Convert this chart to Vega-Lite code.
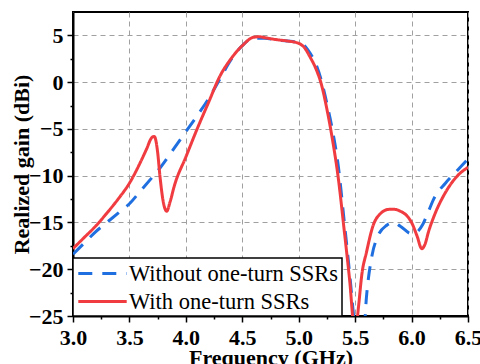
{
  "$schema": "https://vega.github.io/schema/vega-lite/v6.json",
  "width": 395,
  "height": 304,
  "autosize": {"type": "none"},
  "padding": {"left": 73, "top": 12, "right": 12, "bottom": 48},
  "background": "white",
  "config": {
    "font": "Liberation Serif",
    "view": {"stroke": "black", "strokeWidth": 2},
    "legend": {"strokeWidth": 1.5},
    "axis": {
      "domainColor": "black",
      "domainWidth": 2,
      "tickColor": "black",
      "tickWidth": 1.5,
      "labelFont": "Liberation Serif",
      "labelFontSize": 22,
      "labelFontWeight": "bold",
      "labelColor": "black",
      "titleFont": "Liberation Serif",
      "titleFontSize": 22,
      "titleFontWeight": "bold",
      "titleColor": "black",
      "gridColor": "#a0a0a0",
      "gridDash": [5, 4],
      "gridWidth": 1
    }
  },
  "data": {
    "values": [
      {"f": 3.0, "g": -18.4, "s": "Without one-turn SSRs"},
      {"f": 3.1, "g": -17.2, "s": "Without one-turn SSRs"},
      {"f": 3.2, "g": -16.0, "s": "Without one-turn SSRs"},
      {"f": 3.3, "g": -15.0, "s": "Without one-turn SSRs"},
      {"f": 3.4, "g": -14.0, "s": "Without one-turn SSRs"},
      {"f": 3.5, "g": -13.0, "s": "Without one-turn SSRs"},
      {"f": 3.6, "g": -11.6, "s": "Without one-turn SSRs"},
      {"f": 3.7, "g": -10.2, "s": "Without one-turn SSRs"},
      {"f": 3.75, "g": -9.5, "s": "Without one-turn SSRs"},
      {"f": 3.8, "g": -8.7, "s": "Without one-turn SSRs"},
      {"f": 3.9, "g": -7.0, "s": "Without one-turn SSRs"},
      {"f": 4.0, "g": -5.3, "s": "Without one-turn SSRs"},
      {"f": 4.1, "g": -3.6, "s": "Without one-turn SSRs"},
      {"f": 4.2, "g": -1.8, "s": "Without one-turn SSRs"},
      {"f": 4.3, "g": 0.3, "s": "Without one-turn SSRs"},
      {"f": 4.4, "g": 2.4, "s": "Without one-turn SSRs"},
      {"f": 4.5, "g": 3.9, "s": "Without one-turn SSRs"},
      {"f": 4.6, "g": 4.7, "s": "Without one-turn SSRs"},
      {"f": 4.7, "g": 4.7, "s": "Without one-turn SSRs"},
      {"f": 4.8, "g": 4.5, "s": "Without one-turn SSRs"},
      {"f": 4.9, "g": 4.4, "s": "Without one-turn SSRs"},
      {"f": 5.0, "g": 4.2, "s": "Without one-turn SSRs"},
      {"f": 5.05, "g": 3.9, "s": "Without one-turn SSRs"},
      {"f": 5.1, "g": 3.1, "s": "Without one-turn SSRs"},
      {"f": 5.15, "g": 2.0, "s": "Without one-turn SSRs"},
      {"f": 5.2, "g": 0.2, "s": "Without one-turn SSRs"},
      {"f": 5.25, "g": -2.3, "s": "Without one-turn SSRs"},
      {"f": 5.3, "g": -5.2, "s": "Without one-turn SSRs"},
      {"f": 5.35, "g": -8.9, "s": "Without one-turn SSRs"},
      {"f": 5.4, "g": -14.5, "s": "Without one-turn SSRs"},
      {"f": 5.45, "g": -20.3, "s": "Without one-turn SSRs"},
      {"f": 5.5, "g": -26.5, "s": "Without one-turn SSRs"},
      {"f": 5.56, "g": -30.0, "s": "Without one-turn SSRs"},
      {"f": 5.6, "g": -23.0, "s": "Without one-turn SSRs"},
      {"f": 5.65, "g": -18.5, "s": "Without one-turn SSRs"},
      {"f": 5.7, "g": -16.5, "s": "Without one-turn SSRs"},
      {"f": 5.78, "g": -15.3, "s": "Without one-turn SSRs"},
      {"f": 5.84, "g": -15.0, "s": "Without one-turn SSRs"},
      {"f": 5.9, "g": -15.4, "s": "Without one-turn SSRs"},
      {"f": 6.0, "g": -16.2, "s": "Without one-turn SSRs"},
      {"f": 6.05, "g": -16.0, "s": "Without one-turn SSRs"},
      {"f": 6.1, "g": -15.2, "s": "Without one-turn SSRs"},
      {"f": 6.15, "g": -13.8, "s": "Without one-turn SSRs"},
      {"f": 6.2, "g": -12.4, "s": "Without one-turn SSRs"},
      {"f": 6.3, "g": -10.8, "s": "Without one-turn SSRs"},
      {"f": 6.4, "g": -9.5, "s": "Without one-turn SSRs"},
      {"f": 6.5, "g": -8.2, "s": "Without one-turn SSRs"},
      {"f": 3.0, "g": -17.8, "s": "With one-turn SSRs"},
      {"f": 3.1, "g": -16.6, "s": "With one-turn SSRs"},
      {"f": 3.2, "g": -15.4, "s": "With one-turn SSRs"},
      {"f": 3.3, "g": -14.0, "s": "With one-turn SSRs"},
      {"f": 3.4, "g": -12.5, "s": "With one-turn SSRs"},
      {"f": 3.5, "g": -10.8, "s": "With one-turn SSRs"},
      {"f": 3.6, "g": -8.5, "s": "With one-turn SSRs"},
      {"f": 3.65, "g": -7.2, "s": "With one-turn SSRs"},
      {"f": 3.7, "g": -5.9, "s": "With one-turn SSRs"},
      {"f": 3.72, "g": -5.8, "s": "With one-turn SSRs"},
      {"f": 3.75, "g": -7.5, "s": "With one-turn SSRs"},
      {"f": 3.77, "g": -10.0, "s": "With one-turn SSRs"},
      {"f": 3.8, "g": -12.8, "s": "With one-turn SSRs"},
      {"f": 3.83, "g": -13.8, "s": "With one-turn SSRs"},
      {"f": 3.86, "g": -12.8, "s": "With one-turn SSRs"},
      {"f": 3.9, "g": -11.0, "s": "With one-turn SSRs"},
      {"f": 4.0, "g": -8.0, "s": "With one-turn SSRs"},
      {"f": 4.1, "g": -5.0, "s": "With one-turn SSRs"},
      {"f": 4.2, "g": -2.2, "s": "With one-turn SSRs"},
      {"f": 4.3, "g": 0.6, "s": "With one-turn SSRs"},
      {"f": 4.4, "g": 2.5, "s": "With one-turn SSRs"},
      {"f": 4.5, "g": 3.9, "s": "With one-turn SSRs"},
      {"f": 4.6, "g": 4.8, "s": "With one-turn SSRs"},
      {"f": 4.65, "g": 4.85, "s": "With one-turn SSRs"},
      {"f": 4.7, "g": 4.75, "s": "With one-turn SSRs"},
      {"f": 4.8, "g": 4.55, "s": "With one-turn SSRs"},
      {"f": 4.9, "g": 4.4, "s": "With one-turn SSRs"},
      {"f": 5.0, "g": 4.15, "s": "With one-turn SSRs"},
      {"f": 5.05, "g": 3.7, "s": "With one-turn SSRs"},
      {"f": 5.1, "g": 2.7, "s": "With one-turn SSRs"},
      {"f": 5.15, "g": 1.5, "s": "With one-turn SSRs"},
      {"f": 5.2, "g": -0.2, "s": "With one-turn SSRs"},
      {"f": 5.25, "g": -2.9, "s": "With one-turn SSRs"},
      {"f": 5.3, "g": -6.2, "s": "With one-turn SSRs"},
      {"f": 5.35, "g": -10.2, "s": "With one-turn SSRs"},
      {"f": 5.4, "g": -15.5, "s": "With one-turn SSRs"},
      {"f": 5.45, "g": -21.0, "s": "With one-turn SSRs"},
      {"f": 5.5, "g": -27.0, "s": "With one-turn SSRs"},
      {"f": 5.53, "g": -24.0, "s": "With one-turn SSRs"},
      {"f": 5.56, "g": -20.5, "s": "With one-turn SSRs"},
      {"f": 5.6, "g": -18.2, "s": "With one-turn SSRs"},
      {"f": 5.66, "g": -15.3, "s": "With one-turn SSRs"},
      {"f": 5.72, "g": -14.1, "s": "With one-turn SSRs"},
      {"f": 5.8, "g": -13.6, "s": "With one-turn SSRs"},
      {"f": 5.85, "g": -13.6, "s": "With one-turn SSRs"},
      {"f": 5.9, "g": -13.8, "s": "With one-turn SSRs"},
      {"f": 5.96, "g": -14.3, "s": "With one-turn SSRs"},
      {"f": 6.0, "g": -15.0, "s": "With one-turn SSRs"},
      {"f": 6.05, "g": -16.5, "s": "With one-turn SSRs"},
      {"f": 6.09, "g": -17.8, "s": "With one-turn SSRs"},
      {"f": 6.12, "g": -17.3, "s": "With one-turn SSRs"},
      {"f": 6.15, "g": -16.0, "s": "With one-turn SSRs"},
      {"f": 6.2, "g": -14.3, "s": "With one-turn SSRs"},
      {"f": 6.3, "g": -11.8, "s": "With one-turn SSRs"},
      {"f": 6.4, "g": -10.1, "s": "With one-turn SSRs"},
      {"f": 6.5, "g": -9.1, "s": "With one-turn SSRs"}
    ]
  },
  "mark": {"type": "line", "strokeWidth": 3, "clip": true, "interpolate": "monotone"},
  "encoding": {
    "x": {
      "field": "f",
      "type": "quantitative",
      "scale": {"domain": [3.0, 6.5], "nice": false, "zero": false},
      "axis": {
        "title": "Frequency (GHz)",
        "values": [3.0, 3.25, 3.5, 3.75, 4.0, 4.25, 4.5, 4.75, 5.0, 5.25, 5.5, 5.75, 6.0, 6.25, 6.5],
        "labelExpr": "abs(datum.value*2 - round(datum.value*2)) > 0.01 ? '' : format(datum.value, '.1f')",
        "tickSize": {"condition": {"test": "abs(datum.value*2 - round(datum.value*2)) > 0.01", "value": 3}, "value": 6},
        "gridOpacity": {"condition": {"test": "abs(datum.value*2 - round(datum.value*2)) > 0.01", "value": 0}, "value": 1},
        "labelPadding": 5,
        "labelOverlap": false,
        "labelFlush": false,
        "titleBaseline": "alphabetic",
        "titleY": 48
      }
    },
    "y": {
      "field": "g",
      "type": "quantitative",
      "scale": {"domain": [-25, 7.5], "nice": false, "zero": false},
      "axis": {
        "title": "Realized gain (dBi)",
        "values": [-25, -22.5, -20, -17.5, -15, -12.5, -10, -7.5, -5, -2.5, 0, 2.5, 5],
        "labelExpr": "abs(datum.value/5 - round(datum.value/5)) > 0.01 ? '' : format(datum.value, 'd')",
        "tickSize": {"condition": {"test": "abs(datum.value/5 - round(datum.value/5)) > 0.01", "value": 3}, "value": 6},
        "gridOpacity": {"condition": {"test": "abs(datum.value/5 - round(datum.value/5)) > 0.01", "value": 0}, "value": 1},
        "labelPadding": 4,
        "labelOverlap": false,
        "labelFlush": false,
        "titleBaseline": "alphabetic",
        "titleAngle": -90,
        "titleX": -45,
        "titleY": 152
      }
    },
    "color": {
      "field": "s",
      "type": "nominal",
      "scale": {"domain": ["Without one-turn SSRs", "With one-turn SSRs"], "range": ["#1f6fe0", "#f03c40"]},
      "legend": {
        "title": null,
        "orient": "bottom-left",
        "offset": 0,
        "padding": 3,
        "rowPadding": 4,
        "strokeColor": "black",
        "fillColor": "white",
        "symbolType": "M-2.2,0H2.2",
        "symbolSize": 484,
        "symbolOffset": 14,
        "symbolStrokeWidth": 3,
        "labelFont": "Liberation Serif",
        "labelFontSize": 22.5,
        "labelColor": "black",
        "labelOffset": 14,
        "labelLimit": 400
      }
    },
    "strokeDash": {
      "field": "s",
      "type": "nominal",
      "scale": {"domain": ["Without one-turn SSRs", "With one-turn SSRs"], "range": [[14, 10], [1, 0]]},
      "legend": null
    }
  }
}
